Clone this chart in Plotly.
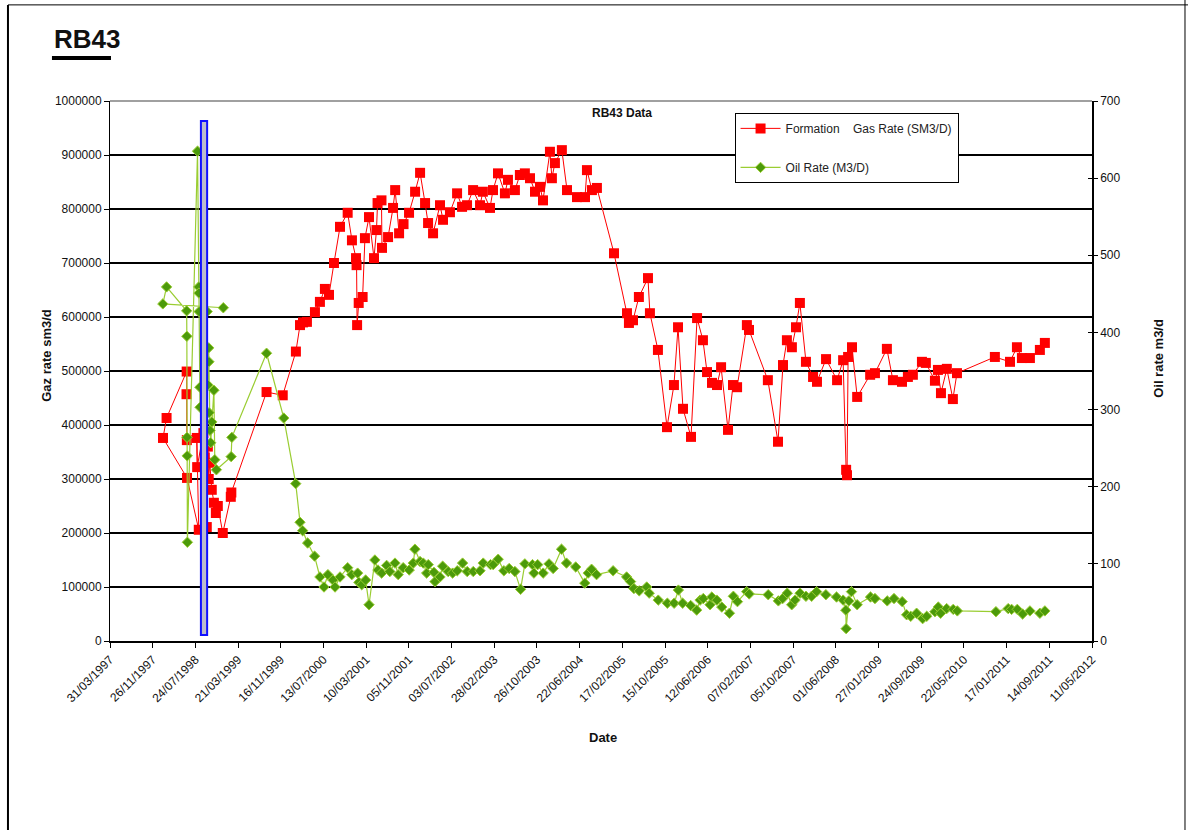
import plotly.graph_objects as go

# Formation gas rate (sm3/d), in the order the points were logged
gas_dates = [
    '1998-06-06', '1998-06-04', '1998-06-05', '1998-02-12', '1998-01-23', '1998-06-07',
    '1998-08-12', '1998-08-01', '1998-08-03', '1998-09-07', '1998-09-15', '1998-09-26',
    '1998-10-02', '1998-10-07', '1998-10-13', '1998-10-24', '1998-11-05', '1998-11-16',
    '1998-11-27', '1998-12-25', '1999-02-08', '1999-02-11', '1999-08-28', '1999-11-27',
    '2000-02-09', '2000-03-03', '2000-03-20', '2000-04-11', '2000-05-26', '2000-06-23',
    '2000-07-21', '2000-08-13', '2000-09-10', '2000-10-14', '2000-11-26', '2000-12-20',
    '2001-01-12', '2001-01-15', '2001-01-18', '2001-01-27', '2001-02-18', '2001-03-03',
    '2001-03-26', '2001-04-23', '2001-05-07', '2001-05-13', '2001-06-04', '2001-06-07',
    '2001-07-11', '2001-08-08', '2001-08-20', '2001-09-11', '2001-10-06', '2001-11-06',
    '2001-12-10', '2002-01-07', '2002-02-04', '2002-02-21', '2002-03-21', '2002-04-29',
    '2002-05-16', '2002-06-24', '2002-08-03', '2002-08-31', '2002-09-28', '2002-11-01',
    '2002-12-10', '2002-12-26', '2003-02-04', '2003-02-21', '2003-03-21', '2003-04-29',
    '2003-05-16', '2003-06-24', '2003-07-22', '2003-08-19', '2003-09-17', '2003-10-15',
    '2003-11-12', '2003-11-29', '2004-01-07', '2004-01-18', '2004-02-04', '2004-03-14',
    '2004-04-12', '2004-06-07', '2004-07-22', '2004-08-02', '2004-08-30', '2004-09-27',
    '2005-01-01', '2005-03-15', '2005-03-26', '2005-04-18', '2005-05-21', '2005-07-11',
    '2005-07-22', '2005-09-05', '2005-10-26', '2005-12-04', '2005-12-27', '2006-01-24',
    '2006-03-10', '2006-04-13', '2006-05-16', '2006-06-08', '2006-07-06', '2006-08-03',
    '2006-08-26', '2006-10-04', '2006-11-01', '2006-11-24', '2007-01-18', '2007-01-30',
    '2007-05-16', '2007-07-12', '2007-08-09', '2007-08-31', '2007-09-28', '2007-10-21',
    '2007-11-12', '2007-12-16', '2008-01-25', '2008-02-16', '2008-04-07', '2008-06-08',
    '2008-07-12', '2008-07-29', '2008-08-03', '2008-08-09', '2008-08-31', '2008-09-29',
    '2008-12-11', '2009-01-07', '2009-03-15', '2009-04-18', '2009-06-08', '2009-07-11',
    '2009-08-08', '2009-09-28', '2009-10-20', '2009-12-10', '2009-12-27', '2010-01-13',
    '2010-02-15', '2010-03-21', '2010-04-13', '2010-11-12', '2011-02-05', '2011-03-16',
    '2011-04-13', '2011-05-28', '2011-07-23', '2011-08-20',
]
gas_rate = [
    372000, 457000, 499000, 413000, 376000, 302000,
    206000, 376000, 322000, 385000, 340000, 211000,
    360000, 300000, 330000, 280000, 256000, 237000,
    250000, 200000, 267000, 275000, 461000, 455000,
    536000, 585000, 590000, 591000, 609000, 628000,
    652000, 641000, 700000, 767000, 793000, 742000,
    709000, 696000, 585000, 626000, 637000, 746000,
    785000, 709000, 761000, 811000, 816000, 728000,
    748000, 802000, 835000, 755000, 772000, 793000,
    832000, 867000, 811000, 774000, 755000, 807000,
    780000, 794000, 829000, 804000, 807000, 835000,
    807000, 832000, 802000, 835000, 866000, 829000,
    854000, 835000, 863000, 866000, 857000, 832000,
    841000, 816000, 906000, 857000, 885000, 909000,
    835000, 822000, 822000, 872000, 835000, 839000,
    718000, 607000, 589000, 594000, 637000, 672000,
    607000, 539000, 396000, 474000, 581000, 430000,
    378000, 598000, 557000, 498000, 478000, 474000,
    507000, 391000, 474000, 470000, 585000, 576000,
    483000, 369000, 511000, 557000, 544000, 581000,
    626000, 517000, 489000, 480000, 522000, 483000,
    520000, 317000, 307000, 526000, 544000, 452000,
    493000, 496000, 541000, 483000, 480000, 489000,
    493000, 517000, 515000, 482000, 502000, 459000,
    504000, 448000, 496000, 526000, 517000, 544000,
    524000, 524000, 539000, 552000,
]

# Oil rate (m3/d)
oil_dates = [
    '1998-12-28', '1998-01-22', '1998-02-12', '1998-06-05', '1998-06-06', '1998-06-07',
    '1998-06-08', '1998-06-09', '1998-08-05', '1998-08-12', '1998-08-13', '1998-08-14',
    '1998-08-18', '1998-08-19', '1998-09-28', '1998-10-02', '1998-10-07', '1998-10-08',
    '1998-10-09', '1998-10-14', '1998-10-18', '1998-10-24', '1998-11-05', '1998-11-10',
    '1998-11-19', '1999-02-10', '1999-02-14', '1999-08-28', '1999-12-03', '2000-02-08',
    '2000-03-03', '2000-03-18', '2000-04-15', '2000-05-24', '2000-06-23', '2000-07-16',
    '2000-08-07', '2000-09-04', '2000-09-16', '2000-10-14', '2000-11-26', '2000-12-19',
    '2001-01-21', '2001-01-28', '2001-02-13', '2001-03-07', '2001-03-26', '2001-04-28',
    '2001-05-15', '2001-06-05', '2001-07-03', '2001-07-21', '2001-08-19', '2001-09-06',
    '2001-10-04', '2001-11-07', '2001-11-30', '2001-12-09', '2002-01-07', '2002-01-25',
    '2002-02-13', '2002-02-22', '2002-03-26', '2002-04-01', '2002-04-29', '2002-05-14',
    '2002-06-14', '2002-07-09', '2002-08-04', '2002-09-03', '2002-09-29', '2002-11-02',
    '2002-12-10', '2002-12-28', '2003-02-07', '2003-02-22', '2003-03-22', '2003-04-23',
    '2003-05-23', '2003-06-24', '2003-07-26', '2003-08-19', '2003-10-01', '2003-10-09',
    '2003-10-30', '2003-11-30', '2004-01-02', '2004-01-25', '2004-03-12', '2004-04-09',
    '2004-05-31', '2004-07-21', '2004-08-09', '2004-08-28', '2004-09-25', '2004-12-27',
    '2005-03-13', '2005-04-04', '2005-04-23', '2005-05-23', '2005-07-04', '2005-07-18',
    '2005-09-07', '2005-10-28', '2005-12-05', '2005-12-29', '2006-01-22', '2006-03-08',
    '2006-04-11', '2006-04-30', '2006-05-18', '2006-06-25', '2006-07-05', '2006-08-02',
    '2006-08-30', '2006-10-12', '2006-11-03', '2006-11-26', '2007-01-17', '2007-01-31',
    '2007-05-18', '2007-07-14', '2007-08-07', '2007-09-02', '2007-09-27', '2007-10-16',
    '2007-11-13', '2007-12-16', '2008-01-17', '2008-02-14', '2008-04-06', '2008-06-05',
    '2008-07-12', '2008-07-27', '2008-07-29', '2008-08-13', '2008-08-28', '2008-09-29',
    '2008-12-13', '2009-01-07', '2009-03-17', '2009-04-24', '2009-06-09', '2009-07-04',
    '2009-07-27', '2009-08-29', '2009-10-02', '2009-10-25', '2009-12-10', '2009-12-29',
    '2010-01-11', '2010-02-14', '2010-03-23', '2010-04-15', '2010-11-18', '2011-01-26',
    '2011-02-14', '2011-03-18', '2011-04-17', '2011-05-28', '2011-07-23', '2011-08-20',
]
oil_rate = [
    432, 437, 459, 428, 395, 264,
    240, 128, 635, 459, 451, 427,
    329, 303, 427, 332, 380, 362,
    296, 273, 257, 284, 325, 235,
    222, 239, 264, 373, 289, 204,
    154, 143, 127, 110, 83, 70,
    86, 79, 70, 83, 95, 86,
    88, 76, 73, 79, 47, 105,
    92, 88, 98, 90, 101, 86,
    95, 92, 101, 119, 103, 101,
    88, 99, 89, 77, 83, 97,
    90, 88, 91, 101, 90, 90,
    91, 101, 99, 99, 106, 91,
    94, 90, 67, 100, 99, 88,
    99, 88, 100, 94, 119, 101,
    96, 75, 88, 93, 86, 91,
    83, 77, 68, 65, 70, 62,
    53, 49, 49, 66, 49, 46,
    40, 53, 55, 47, 57, 53,
    44, 36, 58, 51, 64, 61,
    60, 52, 55, 62, 47, 53,
    62, 58, 58, 64, 60, 57,
    53, 40, 16, 52, 64, 47,
    57, 55, 52, 55, 51, 34,
    32, 36, 29, 32, 38, 44,
    36, 42, 41, 39, 38, 42,
    41, 41, 35, 39, 36, 39,
]

tick_dates = [
    '1997-03-31', '1997-11-26', '1998-07-24', '1999-03-21', '1999-11-16', '2000-07-13',
    '2001-03-10', '2001-11-05', '2002-07-03', '2003-02-28', '2003-10-26', '2004-06-22',
    '2005-02-17', '2005-10-15', '2006-06-12', '2007-02-07', '2007-10-05', '2008-06-01',
    '2009-01-27', '2009-09-24', '2010-05-22', '2011-01-17', '2011-09-14', '2012-05-11',
]
tick_text = [
    '31/03/1997', '26/11/1997', '24/07/1998', '21/03/1999', '16/11/1999', '13/07/2000',
    '10/03/2001', '05/11/2001', '03/07/2002', '28/02/2003', '26/10/2003', '22/06/2004',
    '17/02/2005', '15/10/2005', '12/06/2006', '07/02/2007', '05/10/2007', '01/06/2008',
    '27/01/2009', '24/09/2009', '22/05/2010', '17/01/2011', '14/09/2011', '11/05/2012',
]

# highlighted window (blue box)
box_start, box_end = '1998-08-24', '1998-09-28'
box_low, box_high = 11000, 963000

FONT = 'Liberation Sans, Arial, sans-serif'

fig = go.Figure()

fig.add_trace(go.Scatter(
    x=gas_dates, y=gas_rate,
    name='Formation    Gas Rate (SM3/D)',
    mode='lines+markers',
    line=dict(color='#FF0000', width=1),
    marker=dict(symbol='square', size=10, color='#FF0000'),
    legendgroup='gas',
))
fig.add_trace(go.Scatter(
    x=oil_dates, y=oil_rate,
    name='Oil Rate (M3/D)',
    mode='lines+markers',
    line=dict(color='#9ACD32', width=1.2),
    marker=dict(symbol='diamond', size=8, color='#4C9A0A',
                line=dict(color='#9ACD32', width=1)),
    yaxis='y2',
    legendgroup='oil',
))
# carries the inner half of the right-axis tick marks
fig.add_trace(go.Scatter(x=[], y=[], yaxis='y3', showlegend=False, hoverinfo='skip'))

fig.add_shape(type='rect', xref='x', yref='y',
              x0=box_start, x1=box_end, y0=box_low, y1=box_high,
              fillcolor='#BCBCCC', line=dict(color='#1010FF', width=2), layer='above')

# plot-area top border is grey, not a black gridline
fig.add_shape(type='line', xref='paper', yref='paper', x0=0, x1=1, y0=1, y1=1,
              line=dict(color='#A0A0A0', width=2), layer='above')

# page frame and title underline
fig.add_shape(type='line', xref='paper', yref='paper', x0=-0.1039, x1=-0.1039,
              y0=1.178, y1=-0.36, line=dict(color='black', width=2))
fig.add_shape(type='line', xref='paper', yref='paper', x0=-0.1039, x1=1.10,
              y0=1.178, y1=1.178, line=dict(color='black', width=1))
fig.add_shape(type='line', xref='paper', yref='paper', x0=1.0947, x1=1.0947,
              y0=1.19, y1=-0.36, line=dict(color='black', width=1))
fig.add_shape(type='line', xref='paper', yref='paper', x0=-0.0591, x1=0.001,
              y0=1.0796, y1=1.0796, line=dict(color='black', width=4))

axis_title = dict(family=FONT, size=13, color='#111')
fig.add_annotation(text='<b>RB43</b>', xref='paper', yref='paper', x=-0.0591, y=1.1148,
                   xanchor='left', yanchor='middle', showarrow=False,
                   font=dict(family=FONT, size=26, color='#111'))
fig.add_annotation(text='<b>RB43 Data</b>', xref='paper', yref='paper', x=0.521, y=0.978,
                   xanchor='center', yanchor='middle', showarrow=False,
                   font=dict(family=FONT, size=12, color='#111'))
fig.add_annotation(text='<b>Gaz rate sm3/d</b>', xref='paper', yref='paper', x=-0.0642, y=0.53,
                   xanchor='center', yanchor='middle', textangle=-90, showarrow=False,
                   font=axis_title)
fig.add_annotation(text='<b>Oil rate m3/d</b>', xref='paper', yref='paper', x=1.067, y=0.524,
                   xanchor='center', yanchor='middle', textangle=-90, showarrow=False,
                   font=axis_title)
fig.add_annotation(text='<b>Date</b>', xref='paper', yref='paper', x=0.502, y=-0.1796,
                   xanchor='center', yanchor='middle', showarrow=False, font=axis_title)

fig.update_layout(
    width=1188, height=830,
    margin=dict(l=110, r=96, t=101, b=189),
    paper_bgcolor='white', plot_bgcolor='white',
    font=dict(family=FONT, size=12, color='#111'),
    showlegend=True,
    legend=dict(x=0.636, y=0.978, xanchor='left', yanchor='top',
                bgcolor='white', bordercolor='black', borderwidth=1,
                font=dict(family=FONT, size=12, color='#222'),
                tracegroupgap=20, itemwidth=40),
    xaxis=dict(type='date', range=[tick_dates[0], tick_dates[-1]],
               tickvals=tick_dates, ticktext=tick_text, tickangle=-45,
               ticks='outside', ticklen=5, tickcolor='black',
               showline=True, linecolor='black', linewidth=2,
               showgrid=False, zeroline=False),
    yaxis=dict(range=[0, 1000000], dtick=100000, tickformat='d',
               ticks='outside', ticklen=5, tickcolor='black',
               showline=True, linecolor='black', linewidth=1,
               showgrid=True, gridcolor='black', gridwidth=2, zeroline=False),
    yaxis2=dict(range=[0, 700], dtick=100, overlaying='y', side='right',
                ticks='outside', ticklen=4, tickcolor='black',
                showline=True, linecolor='black', linewidth=1.5,
                showgrid=False, zeroline=False),
    yaxis3=dict(range=[0, 700], dtick=100, overlaying='y', side='right',
                ticks='inside', ticklen=4, tickcolor='black',
                showticklabels=False, showline=False, showgrid=False, zeroline=False),
)

# the page's default body margin would shift the whole figure by 8px
fig.write_html('out.html', config={'displayModeBar': False},
               post_script="document.body.style.margin='0';")
